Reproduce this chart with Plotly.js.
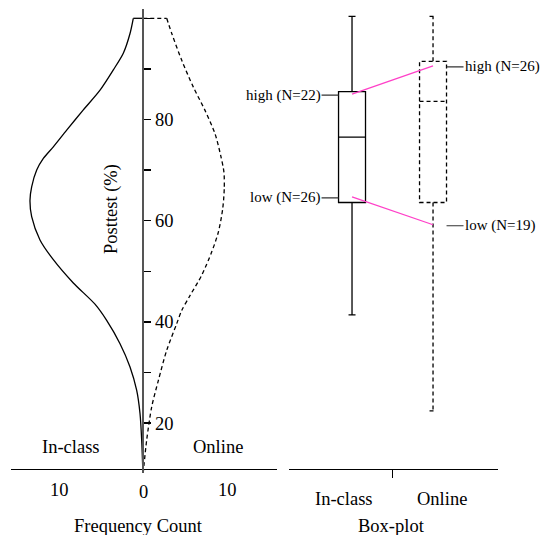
<!DOCTYPE html>
<html>
<head>
<meta charset="utf-8">
<script src="https://cdn.plot.ly/plotly-3.0.1.min.js"></script>
<style>html,body{margin:0;padding:0;background:#fff;}#chart{width:545px;height:535px;}</style>
</head>
<body>
<div id="chart"></div>
<script>
// ---- Data ----
// Left panel: back-to-back frequency curves (Posttest % vs count)
const inclassScore = [100, 100, 97, 93.1, 89.8, 85.8, 81.9, 77.9, 74.6, 72.3, 70, 66.7, 64, 60.8, 56.2, 52.3, 47.7, 43.5, 40.3, 35.7, 31.1, 26.5, 21.9, 16.6, 10.3];
const inclassCount = [0, 1.19, 1.58, 2.38, 3.57, 5.15, 7.14, 9.12, 10.71, 11.9, 12.69, 13.29, 13.49, 13.29, 12.3, 10.71, 8.33, 5.75, 4.36, 2.77, 1.58, 0.79, 0.39, 0.19, 0.05];
const onlineScore = [100, 100, 97, 91.7, 86.4, 81.8, 77.2, 73, 69.6, 66.3, 62.3, 57.7, 53.8, 49.2, 45.2, 42.2, 39.6, 34.4, 28.4, 23.2, 16.6, 10.3];
const onlineCount = [0, 2.79, 3.39, 4.58, 5.96, 7.35, 8.54, 9.2, 9.6, 9.64, 9.45, 8.93, 8.14, 6.95, 5.56, 4.56, 3.97, 2.79, 1.79, 1.0, 0.4, 0];

// Right panel: box-plot statistics
const groups = ['In-class', 'Online'];
const q1 = [63.6, 63.6];
const median = [76.5, 83.6];
const q3 = [85.5, 91.5];
const lowerWhisker = [41.4, 22.4];
const upperWhisker = [100.4, 100.4];
const highMeans = [85.0, 90.6];
const lowMeans = [64.7, 59.2];
const highLabels = ['high (N=22)', 'high (N=26)'];
const lowLabels = ['low (N=26)', 'low (N=19)'];

// Axis labels
const yTickVals = [20, 30, 40, 50, 60, 70, 80, 90, 100];
const yTickText = ['20', '', '40', '', '60', '', '80', '', ''];
const xTickVals = [-10, 10];
const xTickText = ['10', '10'];

// ---- Layout helpers ----
const W = 545, H = 535;
const FONT = 'Liberation Serif, Times New Roman, serif';
const px = v => v / W;
const py = v => (H - v) / H;
const yRange = [10.14, 101.84];
const yDomain = [py(473), py(9)];
const boxWidth = 0.333;
const pink = '#ff40c8';
const DASH = '4px,3px';

function curveTraces(counts, scores, sign, dash) {
  const line = { color: '#000', width: 1.3 };
  if (dash) line.dash = dash;
  return [
    // flat cap at the top of the distribution
    { type: 'scatter', mode: 'lines', x: counts.slice(0, 2).map(c => sign * c), y: scores.slice(0, 2),
      line: Object.assign({}, line), xaxis: 'x', yaxis: 'y', hoverinfo: 'skip' },
    // the curve itself
    { type: 'scatter', mode: 'lines', x: counts.slice(1).map(c => sign * c), y: scores.slice(1),
      line: Object.assign({ shape: 'spline', smoothing: 0.8 }, line), xaxis: 'x', yaxis: 'y', hoverinfo: 'skip' }
  ];
}

const traces = [].concat(
  curveTraces(inclassCount, inclassScore, -1, null),
  curveTraces(onlineCount, onlineScore, 1, DASH),
  [
  { type: 'box', x: [0], q1: [q1[0]], median: [median[0]], q3: [q3[0]], lowerfence: [lowerWhisker[0]], upperfence: [upperWhisker[0]],
    width: boxWidth, whiskerwidth: 0.26, fillcolor: 'rgba(0,0,0,0)', line: { color: '#000', width: 1.3 },
    boxpoints: false, xaxis: 'x2', yaxis: 'y2', hoverinfo: 'skip' },
  { type: 'box', x: [1], q1: [q1[1]], median: [median[1]], q3: [q3[1]], lowerfence: [lowerWhisker[1]], upperfence: [upperWhisker[1]],
    width: boxWidth, whiskerwidth: 0.26, fillcolor: 'rgba(0,0,0,0)', line: { color: '#000', width: 1.3 },
    boxpoints: false, xaxis: 'x2', yaxis: 'y2', hoverinfo: 'skip' },
  { type: 'scatter', mode: 'lines', x: [0, 1], y: highMeans, line: { color: pink, width: 1.3 }, xaxis: 'x2', yaxis: 'y2', hoverinfo: 'skip' },
  { type: 'scatter', mode: 'lines', x: [0, 1], y: lowMeans, line: { color: pink, width: 1.3 }, xaxis: 'x2', yaxis: 'y2', hoverinfo: 'skip' }
  ]
);

const txt = (text, x, y, size, extra) => Object.assign({
  text: text, x: px(x), y: py(y), xref: 'paper', yref: 'paper', showarrow: false,
  font: { family: FONT, size: size, color: '#000' }, xanchor: 'center', yanchor: 'middle'
}, extra || {});

const annotations = [
  txt('Posttest (%)', 111, 209, 18.5, { textangle: -90 }),
  txt('In-class', 71, 447, 18.5),
  txt('Online', 218, 447, 18.5),
  txt('0', 143, 492, 18.5),
  txt('Frequency Count', 138, 526, 18.5),
  txt('In-class', 344, 499, 18.5),
  txt('Online', 442, 499, 18.5),
  txt('Box-plot', 391, 526, 18.5)
];
const lab = (text, xi, yv, side) => ({
  text: text, x: xi + side * boxWidth / 2, y: yv, xref: 'x2', yref: 'y2',
  showarrow: true, arrowhead: 0, arrowwidth: 1.2, arrowcolor: '#333', ax: side * 17, ay: 0,
  xanchor: side < 0 ? 'right' : 'left', yanchor: 'middle', standoff: 0, borderpad: 0,
  font: { family: FONT, size: 15, color: '#000' }
});
annotations.push(lab(highLabels[0], 0, highMeans[0] - 0.2, -1));
annotations.push(lab(lowLabels[0], 0, lowMeans[0] - 0.2, -1));
annotations.push(lab(highLabels[1], 1, highMeans[1] - 0.2, 1));
annotations.push(lab(lowLabels[1], 1, lowMeans[1] - 0.2, 1));

const layout = {
  width: W, height: H, margin: { l: 0, r: 0, t: 0, b: 0, pad: 0 },
  paper_bgcolor: '#fff', plot_bgcolor: 'rgba(0,0,0,0)', showlegend: false,
  font: { family: FONT, size: 18.5, color: '#000' },
  xaxis: { domain: [px(11), px(277)], range: [-15.75, 15.92], anchor: 'free', position: py(469),
    showline: true, linecolor: '#000', linewidth: 1.3, showgrid: false, zeroline: false,
    tickmode: 'array', tickvals: xTickVals, ticktext: xTickText, ticks: '', ticklabelstandoff: 3,
    tickfont: { family: FONT, size: 18.5, color: '#000' } },
  yaxis: { domain: yDomain, range: yRange, anchor: 'free', position: px(143.3), side: 'right',
    showline: true, linecolor: '#555', linewidth: 2, showgrid: false, zeroline: false,
    tickmode: 'array', tickvals: yTickVals, ticktext: yTickText, ticks: 'outside', ticklen: 7, tickwidth: 1.3, tickcolor: '#000',
    tickfont: { family: FONT, size: 18.5, color: '#000' } },
  yaxis3: { overlaying: 'y', range: yRange, anchor: 'free', position: px(143.3), side: 'left',
    showline: false, showgrid: false, zeroline: false, showticklabels: false,
    tickmode: 'array', tickvals: yTickVals, ticks: 'outside', ticklen: 7, tickwidth: 1.3, tickcolor: '#000' },
  xaxis2: { domain: [px(289), px(498)], range: [-0.778, 1.802], anchor: 'free', position: py(469),
    showline: true, linecolor: '#000', linewidth: 1.3, showgrid: false, zeroline: false, showticklabels: false,
    tickmode: 'array', tickvals: [0.5], ticks: 'outside', ticklen: 8, tickwidth: 1.3, tickcolor: '#000' },
  xaxis3: { overlaying: 'x2', range: [-0.778, 1.802], anchor: 'free', position: py(469),
    showline: false, showgrid: false, zeroline: false, showticklabels: false,
    tickmode: 'array', tickvals: [0.5], ticks: 'inside', ticklen: 12, tickwidth: 1.3, tickcolor: '#000' },
  yaxis2: { domain: yDomain, range: yRange, anchor: 'x2', visible: false, showgrid: false, zeroline: false },
  annotations: annotations
};

Plotly.newPlot('chart', traces, layout, { staticPlot: true, displayModeBar: false }).then(gd => {
  const boxes = gd.querySelectorAll('g.trace.boxes');
  if (boxes.length > 1) {
    boxes[1].querySelectorAll('path').forEach(p => { p.style.strokeDasharray = DASH; });
  }
});
</script>
</body>
</html>
